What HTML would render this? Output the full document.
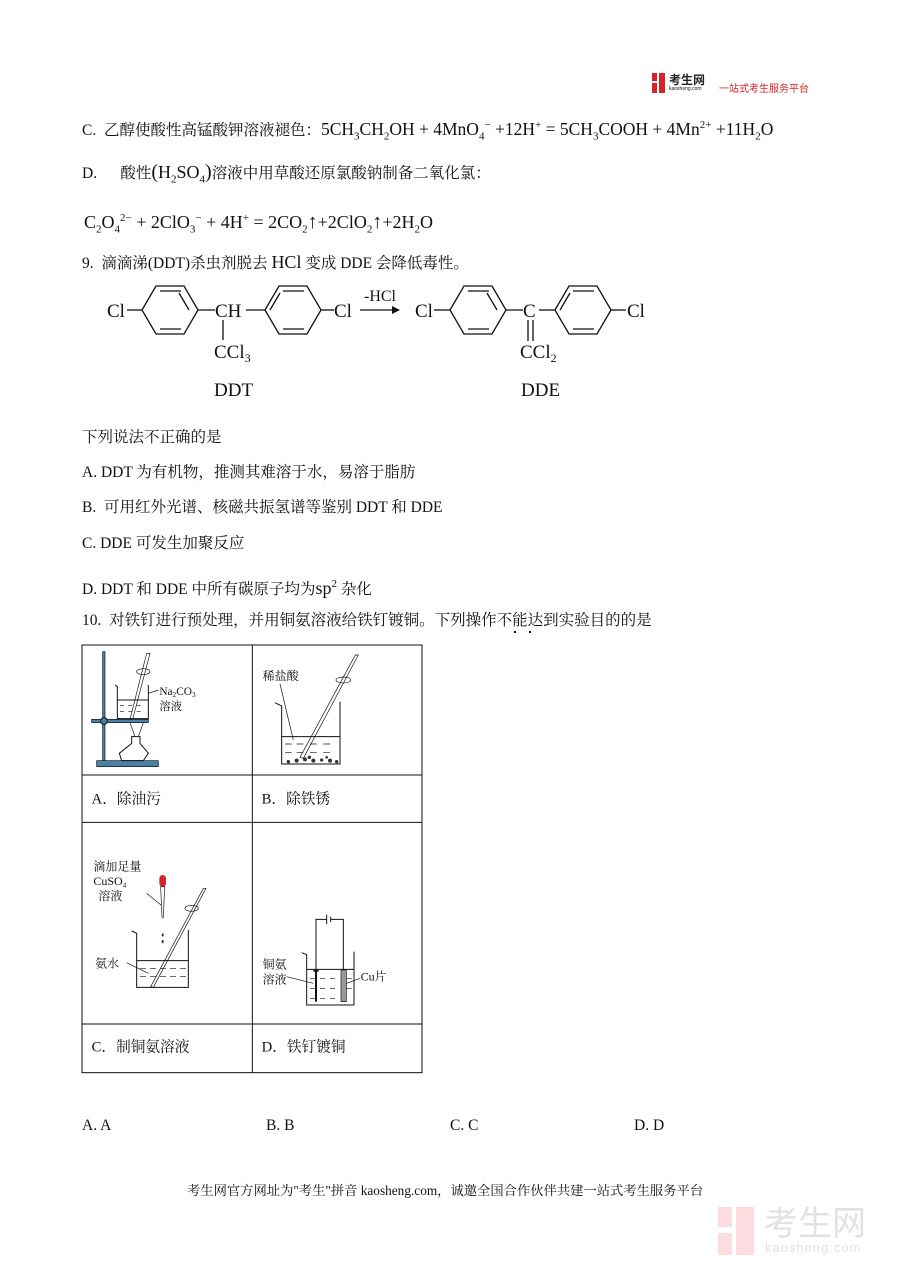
<!DOCTYPE html>
<html><head><meta charset="utf-8">
<style>
body{margin:0;background:#fff;}
#p{position:relative;width:900px;height:1273px;overflow:hidden;font-family:"Liberation Serif","Noto Serif CJK SC","Noto Sans CJK SC",serif;color:#111;}
.t{position:absolute;font-size:15.5px;white-space:nowrap;line-height:16px;}
.m{font-size:18px;}
sub,sup{font-size:11px;}
</style></head><body><div id="p">

<div style="position:absolute;left:652px;top:73px;width:14px;height:20px;">
 <div style="position:absolute;left:0;top:0;width:5px;height:8px;background:#d8232a"></div>
 <div style="position:absolute;left:0;top:10px;width:5px;height:10px;background:#d8232a"></div>
 <div style="position:absolute;left:7px;top:0;width:6px;height:20px;background:#d8232a"></div>
</div>
<div class="t" style="left:669px;top:72px;font-size:12px;font-family:'Noto Sans CJK SC',sans-serif;font-weight:bold;color:#222">考生网</div>
<div class="t" style="left:669px;top:86px;font-size:5px;line-height:6px;font-family:'Liberation Sans',sans-serif;">kaosheng.com</div>
<div class="t" style="left:719px;top:80px;font-size:10px;color:#d8232a;font-family:'Noto Sans CJK SC',sans-serif;">一站式考生服务平台</div>

<div class="t m" style="left:82px;top:117px;font-size:17.5px;"><span style="font-size:15.5px">C. &nbsp;乙醇使酸性高锰酸钾溶液褪色：</span>5CH<sub>3</sub>CH<sub>2</sub>OH + 4MnO<sub>4</sub><sup>−</sup> +12H<sup>+</sup> = 5CH<sub>3</sub>COOH + 4Mn<sup>2+</sup> +11H<sub>2</sub>O</div>
<div class="t" style="left:82px;top:164px;">D. &nbsp; &nbsp; &nbsp;酸性<span style="font-size:20px">(</span><span class="m">H<sub>2</sub>SO<sub>4</sub></span><span style="font-size:20px">)</span>溶液中用草酸还原氯酸钠制备二氧化氯：</div>
<div class="t m" style="left:84px;top:210px;">C<sub>2</sub>O<sub>4</sub><sup>2−</sup> + 2ClO<sub>3</sub><sup>−</sup> + 4H<sup>+</sup> = 2CO<sub>2</sub><span style="font-size:20px">↑</span>+2ClO<sub>2</sub><span style="font-size:20px">↑</span>+2H<sub>2</sub>O</div>
<div class="t" style="left:82px;top:254px;">9. &nbsp;滴滴涕(DDT)杀虫剂脱去 <span class="m">HCl</span> 变成 DDE 会降低毒性。</div>

<svg style="position:absolute;left:0;top:270px" width="700" height="140" font-family="Liberation Serif,serif" font-size="19" fill="#111">
 <g stroke="#111" stroke-width="1.3" fill="none">
  <polygon points="142,40 156,16 184,16 198,40 184,64 156,64"/>
  <polyline points="160,21 181,21"/><polyline points="160,59 181,59"/><polyline points="189,40 179,23" />
  <polygon points="265,40 279,16 307,16 321,40 307,64 279,64"/>
  <polyline points="283,21 304,21"/><polyline points="283,59 304,59"/><polyline points="270,40 280,23"/>
  <polygon points="450,40 464,16 492,16 506,40 492,64 464,64"/>
  <polyline points="468,21 489,21"/><polyline points="468,59 489,59"/><polyline points="497,40 487,23"/>
  <polygon points="555,40 569,16 597,16 611,40 597,64 569,64"/>
  <polyline points="573,21 594,21"/><polyline points="573,59 594,59"/><polyline points="560,40 570,23"/>
  <line x1="127" y1="40" x2="142" y2="40"/><line x1="198" y1="40" x2="215" y2="40"/><line x1="246" y1="40" x2="265" y2="40"/><line x1="321" y1="40" x2="334" y2="40"/>
  <line x1="223" y1="50" x2="223" y2="70"/>
  <line x1="360" y1="40" x2="396" y2="40"/>
  <line x1="434" y1="40" x2="450" y2="40"/><line x1="506" y1="40" x2="523" y2="40"/><line x1="539" y1="40" x2="555" y2="40"/><line x1="611" y1="40" x2="626" y2="40"/>
  <line x1="528" y1="50" x2="528" y2="71"/><line x1="533" y1="50" x2="533" y2="71"/>
 </g>
 <polygon points="400,40 392,36 392,44" fill="#111"/>
 <text x="107" y="47">Cl</text>
 <text x="215" y="47">CH</text>
 <text x="334" y="47">Cl</text>
 <text x="364" y="31" font-size="16">-HCl</text>
 <text x="415" y="47">Cl</text>
 <text x="523" y="47">C</text>
 <text x="627" y="47">Cl</text>
 <text x="214" y="88">CCl<tspan font-size="12" dy="4">3</tspan></text>
 <text x="520" y="88">CCl<tspan font-size="12" dy="4">2</tspan></text>
 <text x="214" y="126">DDT</text>
 <text x="521" y="126">DDE</text>
</svg>

<div class="t" style="left:82px;top:430px;">下列说法不正确的是</div>
<div class="t" style="left:82px;top:465px;">A. DDT 为有机物，推测其难溶于水，易溶于脂肪</div>
<div class="t" style="left:82px;top:500px;">B. &nbsp;可用红外光谱、核磁共振氢谱等鉴别 DDT 和 DDE</div>
<div class="t" style="left:82px;top:536px;">C. DDE 可发生加聚反应</div>
<div class="t" style="left:82px;top:576px;">D. DDT 和 DDE 中所有碳原子均为<span class="m">sp<sup>2</sup></span> 杂化</div>
<div class="t" style="left:82px;top:613px;">10. &nbsp;对铁钉进行预处理，并用铜氨溶液给铁钉镀铜。下列操作不能达到实验目的的是</div>
<div style="position:absolute;left:514px;top:631px;width:2px;height:2px;background:#111"></div>
<div style="position:absolute;left:529px;top:631px;width:2px;height:2px;background:#111"></div>

<svg style="position:absolute;left:80px;top:640px" width="345" height="435" viewBox="0 0 1035 1305" font-family="Liberation Serif,Noto Serif CJK SC,serif" fill="#111">
 <g stroke="#111" stroke-width="3" fill="none">
  <rect x="6" y="15" width="1020" height="1283"/>
  <line x1="517" y1="15" x2="517" y2="1298"/>
  <line x1="6" y1="405" x2="1026" y2="405"/>
  <line x1="6" y1="547" x2="1026" y2="547"/>
  <line x1="6" y1="1152" x2="1026" y2="1152"/>
 </g>
 <rect x="68" y="35" width="7" height="330" fill="#4a7fa8" stroke="#111" stroke-width="2"/>
 <rect x="50" y="362" width="185" height="18" fill="#4a7fa8" stroke="#111" stroke-width="2"/>
 <rect x="35" y="238" width="170" height="10" fill="#4a7fa8" stroke="#111" stroke-width="2"/>
 <circle cx="72" cy="243" r="10" fill="#4a7fa8" stroke="#111" stroke-width="3"/>
 <g stroke="#111" stroke-width="3" fill="none">
  <path d="M105,135 L112,140 L112,236 L205,236 L205,135"/>
  <line x1="112" y1="180" x2="205" y2="180"/>
  <path d="M120,196h12M145,196h12M170,196h12M120,214h12M145,214h12M170,214h12" stroke-width="2"/>
  <path d="M210,40 L200,40 L150,238 L158,238 Z" stroke-width="2"/>
  <ellipse cx="190" cy="95" rx="20" ry="9" stroke-width="2"/>
  <path d="M150,248 L165,290 M190,248 L175,290" stroke-width="2"/>
  <path d="M155,290 L180,290 L180,310 L205,340 L190,362 L125,362 L118,340 L155,310 Z" stroke-width="3"/>
  <line x1="205" y1="160" x2="235" y2="150" stroke-width="2"/>
 </g>
 <text x="238" y="165" font-size="34">Na<tspan font-size="22" dy="6">2</tspan><tspan dy="-6">CO</tspan><tspan font-size="22" dy="6">3</tspan></text>
 <text x="238" y="210" font-size="34">溶液</text>
 <g stroke="#111" stroke-width="3" fill="none">
  <path d="M585,188 L605,198 L605,372 L780,372 L780,185"/>
  <line x1="605" y1="290" x2="780" y2="290"/>
  <path d="M615,312h20M650,312h20M690,312h20M730,312h20M615,338h20M650,338h20M690,338h20M730,338h20" stroke-width="2"/>
  <path d="M835,45 L826,45 L660,352 L670,355 Z" stroke-width="2"/>
  <ellipse cx="790" cy="120" rx="22" ry="9" stroke-width="2"/>
  <line x1="600" y1="132" x2="640" y2="300" stroke-width="2"/>
 </g>
 <g fill="#333"><circle cx="625" cy="365" r="5"/><circle cx="650" cy="362" r="6"/><circle cx="675" cy="358" r="6"/><circle cx="700" cy="362" r="6"/><circle cx="725" cy="360" r="5"/><circle cx="750" cy="362" r="6"/><circle cx="770" cy="365" r="5"/><circle cx="688" cy="352" r="5"/><circle cx="740" cy="352" r="4"/></g>
 <text x="548" y="120" font-size="36">稀盐酸</text>
 <text x="35" y="490" font-size="44">A．除油污</text>
 <text x="545" y="490" font-size="44">B．除铁锈</text>
 <text x="35" y="1235" font-size="44">C．制铜氨溶液</text>
 <text x="545" y="1235" font-size="44">D．铁钉镀铜</text>
 <text x="40" y="692" font-size="36">滴加足量</text>
 <text x="40" y="735" font-size="36">CuSO<tspan font-size="22" dy="8">4</tspan></text>
 <text x="55" y="780" font-size="36">溶液</text>
 <rect x="238" y="705" width="20" height="35" rx="10" fill="#d8232a"/>
 <path d="M242,740 L254,740 L250,832 L246,832 Z" fill="#fff" stroke="#111" stroke-width="2"/>
 <line x1="200" y1="760" x2="243" y2="795" stroke="#111" stroke-width="2"/>
 <ellipse cx="248" cy="885" rx="3" ry="5" fill="#333"/><ellipse cx="248" cy="905" rx="3" ry="5" fill="#333"/>
 <g stroke="#111" stroke-width="3" fill="none">
  <path d="M155,873 L170,880 L170,1042 L325,1042 L325,870"/>
  <line x1="170" y1="962" x2="325" y2="962"/>
  <path d="M180,985h18M210,985h18M240,985h18M270,985h18M300,985h18M180,1010h18M210,1010h18M240,1010h18M270,1010h18M300,1010h18" stroke-width="2"/>
  <path d="M378,745 L370,745 L212,1040 L220,1042 Z" stroke-width="2"/>
  <ellipse cx="335" cy="805" rx="20" ry="9" stroke-width="2"/>
  <line x1="140" y1="968" x2="205" y2="1000" stroke-width="2"/>
 </g>
 <text x="45" y="982" font-size="36">氨水</text>
 <g stroke="#111" stroke-width="3" fill="none">
  <path d="M708,990 L708,838 L740,838 M752,838 L790,838 L790,990"/>
  <line x1="740" y1="824" x2="740" y2="852"/><line x1="752" y1="830" x2="752" y2="846"/>
  <path d="M665,938 L680,944 L680,1095 L822,1095 L822,935"/>
  <line x1="680" y1="988" x2="822" y2="988"/>
  <path d="M690,1015h15M720,1015h15M750,1015h15M800,1015h15M690,1045h15M720,1045h15M750,1045h15M800,1045h15M690,1075h15M720,1075h15M750,1075h15" stroke-width="2"/>
  <line x1="620" y1="1010" x2="700" y2="1030" stroke-width="2"/>
  <line x1="800" y1="1030" x2="840" y2="1015" stroke-width="2"/>
 </g>
 <rect x="700" y="990" width="16" height="5" fill="#111"/>
 <rect x="705" y="990" width="6" height="95" fill="#111"/>
 <rect x="783" y="990" width="16" height="95" fill="#999" stroke="#111" stroke-width="2"/>
 <text x="548" y="985" font-size="36">铜氨</text>
 <text x="548" y="1030" font-size="36">溶液</text>
 <text x="842" y="1022" font-size="36">Cu片</text>
</svg>

<div class="t" style="left:82px;top:1118px;">A. A</div>
<div class="t" style="left:266px;top:1118px;">B. B</div>
<div class="t" style="left:450px;top:1118px;">C. C</div>
<div class="t" style="left:634px;top:1118px;">D. D</div>

<div class="t" style="left:187px;top:1183px;font-size:13.3px;">考生网官方网址为"考生"拼音 kaosheng.com，诚邀全国合作伙伴共建一站式考生服务平台</div>

<div style="position:absolute;left:718px;top:1207px;width:14px;height:20px;background:#fbdde0"></div>
<div style="position:absolute;left:718px;top:1233px;width:14px;height:22px;background:#fbdde0"></div>
<div style="position:absolute;left:736px;top:1207px;width:18px;height:48px;background:#fbdde0"></div>
<div class="t" style="left:764px;top:1203px;font-size:34px;line-height:36px;color:#e2e2e2;font-family:'Noto Sans CJK SC',sans-serif;">考生网</div>
<div class="t" style="left:765px;top:1240px;font-size:13px;color:#e2e2e2;font-family:'Liberation Sans',sans-serif;letter-spacing:1px;">kaosheng.com</div>
</div></body></html>
